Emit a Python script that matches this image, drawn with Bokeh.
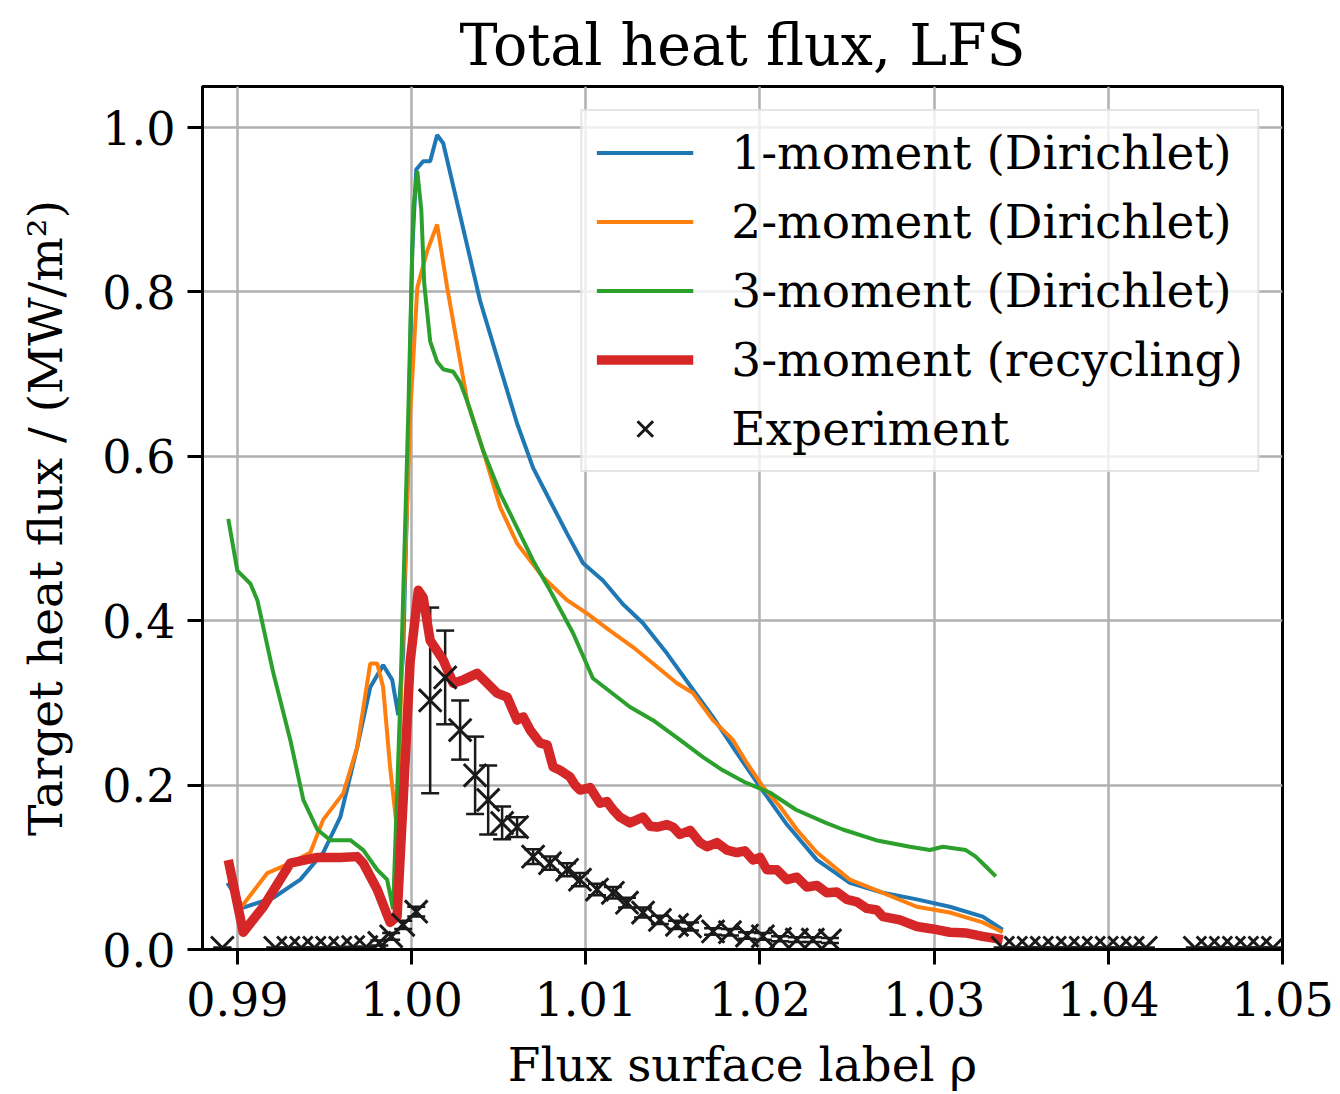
import numpy as np
from bokeh.plotting import figure
from bokeh.models import Range1d, ColumnDataSource, Whisker, TeeHead, Legend, LegendItem, FixedTicker, CustomJSTickFormatter
from bokeh.embed import file_html
from bokeh.resources import INLINE

FONT = "DejaVu Serif"

# ---- data ----
rho_1m = [0.98943, 0.99034, 0.99207, 0.99361, 0.99493, 0.99591, 0.99688, 0.99763, 0.99837, 0.99889,
          0.99924, 0.99952, 0.99981, 1.00004, 1.00027, 1.00067, 1.00107, 1.00147, 1.00182, 1.00279,
          1.00394, 1.00509, 1.00606, 1.00698, 1.00795, 1.00893, 1.00985, 1.01099, 1.01214, 1.01329,
          1.01467, 1.01616, 1.01730, 1.01868, 1.02000, 1.02155, 1.02327, 1.02516, 1.02706, 1.02901,
          1.03090, 1.03279, 1.03394]
q_1m = [0.081, 0.051, 0.063, 0.085, 0.118, 0.161, 0.246, 0.319, 0.346, 0.328,
        0.285, 0.360, 0.600, 0.850, 0.949, 0.959, 0.959, 0.991, 0.981, 0.893,
        0.789, 0.708, 0.640, 0.586, 0.546, 0.506, 0.470, 0.449, 0.420, 0.397,
        0.360, 0.316, 0.283, 0.239, 0.198, 0.152, 0.109, 0.081, 0.069, 0.061,
        0.052, 0.040, 0.024]

rho_2m = [0.99017, 0.99172, 0.99304, 0.99419, 0.99493, 0.99608, 0.99688, 0.99763, 0.99803, 0.99837,
          0.99877, 0.99917, 0.99952, 0.99992, 1.00033, 1.00090, 1.00147, 1.00205, 1.00320, 1.00411,
          1.00509, 1.00606, 1.00755, 1.00893, 1.01007, 1.01139, 1.01271, 1.01386, 1.01524, 1.01616,
          1.01730, 1.01845, 1.01925, 1.02017, 1.02115, 1.02212, 1.02327, 1.02516, 1.02706, 1.02901,
          1.03090, 1.03279, 1.03394]
q_2m = [0.050, 0.093, 0.105, 0.118, 0.158, 0.190, 0.246, 0.348, 0.348, 0.319,
        0.222, 0.146, 0.400, 0.650, 0.805, 0.850, 0.882, 0.805, 0.667, 0.607,
        0.538, 0.494, 0.453, 0.425, 0.409, 0.388, 0.368, 0.348, 0.324, 0.312,
        0.279, 0.255, 0.227, 0.198, 0.174, 0.146, 0.118, 0.085, 0.069, 0.052,
        0.045, 0.033, 0.021]

rho_3m = [0.98948, 0.99000, 0.99075, 0.99115, 0.99207, 0.99304, 0.99379, 0.99459, 0.99534, 0.99649,
          0.99723, 0.99803, 0.99860, 0.99894, 0.99935, 0.99981, 1.00010, 1.00033, 1.00056, 1.00073,
          1.00107, 1.00147, 1.00182, 1.00239, 1.00279, 1.00320, 1.00411, 1.00509, 1.00606, 1.00698,
          1.00795, 1.00927, 1.01041, 1.01254, 1.01386, 1.01541, 1.01673, 1.01787, 1.01919, 1.02057,
          1.02207, 1.02379, 1.02476, 1.02666, 1.02861, 1.02976, 1.03050, 1.03182, 1.03239, 1.03297,
          1.03354]
q_3m = [0.524, 0.461, 0.445, 0.425, 0.336, 0.255, 0.182, 0.146, 0.133, 0.133,
        0.121, 0.097, 0.085, 0.049, 0.300, 0.650, 0.900, 0.947, 0.900, 0.810,
        0.740, 0.715, 0.706, 0.703, 0.690, 0.667, 0.607, 0.555, 0.513, 0.473,
        0.437, 0.385, 0.330, 0.295, 0.279, 0.255, 0.234, 0.218, 0.203, 0.191,
        0.170, 0.154, 0.146, 0.133, 0.125, 0.121, 0.125, 0.121, 0.113, 0.101,
        0.089]

rho_rec = [0.98948, 0.99034, 0.99149, 0.99304, 0.99459, 0.99591, 0.99688, 0.99723, 0.99803, 0.99877,
           0.99917, 0.99952, 0.99992, 1.00039, 1.00067, 1.00107, 1.00182, 1.00239, 1.00297, 1.00377,
           1.00434, 1.00491, 1.00549, 1.00606, 1.00641, 1.00681, 1.00738, 1.00778, 1.00813, 1.00853,
           1.00910, 1.00939, 1.00968, 1.01025, 1.01082, 1.01122, 1.01157, 1.01197, 1.01254, 1.01329,
           1.01369, 1.01409, 1.01467, 1.01501, 1.01541, 1.01599, 1.01656, 1.01696, 1.01753, 1.01811,
           1.01868, 1.01914, 1.01960, 1.02000, 1.02040, 1.02098, 1.02155, 1.02212, 1.02270, 1.02327,
           1.02384, 1.02442, 1.02499, 1.02556, 1.02614, 1.02671, 1.02706, 1.02803, 1.02901, 1.02992,
           1.03090, 1.03187, 1.03279, 1.03394]
q_rec = [0.109, 0.021, 0.052, 0.105, 0.112, 0.112, 0.113, 0.105, 0.073, 0.033,
         0.040, 0.182, 0.350, 0.437, 0.428, 0.376, 0.352, 0.324, 0.328, 0.336,
         0.324, 0.312, 0.307, 0.279, 0.283, 0.267, 0.251, 0.249, 0.222, 0.218,
         0.210, 0.200, 0.194, 0.197, 0.178, 0.180, 0.170, 0.161, 0.154, 0.161,
         0.150, 0.149, 0.152, 0.149, 0.140, 0.145, 0.130, 0.125, 0.130, 0.121,
         0.118, 0.120, 0.109, 0.112, 0.097, 0.097, 0.085, 0.088, 0.076, 0.078,
         0.069, 0.070, 0.061, 0.058, 0.050, 0.048, 0.040, 0.036, 0.028, 0.025,
         0.021, 0.020, 0.016, 0.012]

rho_exp = [0.98914, 0.99218, 0.99293, 0.99367, 0.99442, 0.99516, 0.99591, 0.99665, 0.99740, 0.99815,
           0.99883, 0.99952, 1.00027, 1.00107, 1.00193, 1.00279, 1.00365, 1.00440, 1.00520, 1.00606,
           1.00698, 1.00795, 1.00893, 1.00967, 1.01065, 1.01156, 1.01237, 1.01329, 1.01426, 1.01524,
           1.01599, 1.01731, 1.01828, 1.01926, 1.02017, 1.02115, 1.02212, 1.02304, 1.02402,
           1.03394, 1.03469, 1.03543, 1.03618, 1.03692, 1.03767, 1.03842, 1.03916, 1.03991, 1.04065,
           1.04140, 1.04215,
           1.04497, 1.04572, 1.04646, 1.04721, 1.04796, 1.04870, 1.04945]
q_exp = [0.002, 0.002, 0.002, 0.002, 0.002, 0.002, 0.002, 0.003, 0.003, 0.008,
         0.016, 0.030, 0.046, 0.303, 0.331, 0.267, 0.212, 0.182, 0.154, 0.149,
         0.113, 0.105, 0.097, 0.085, 0.073, 0.069, 0.057, 0.045, 0.036, 0.030,
         0.028, 0.022, 0.021, 0.017, 0.016, 0.013, 0.012, 0.012, 0.011,
         0.002, 0.002, 0.002, 0.002, 0.002, 0.002, 0.002, 0.002, 0.002, 0.002,
         0.002, 0.002,
         0.002, 0.002, 0.002, 0.002, 0.002, 0.002, 0.002]
err_exp = [0.0, 0.0, 0.0, 0.0, 0.0, 0.0, 0.0, 0.0, 0.0, 0.003,
           0.004, 0.005, 0.006, 0.113, 0.057, 0.036, 0.047, 0.042, 0.020, 0.012,
           0.009, 0.008, 0.008, 0.008, 0.007, 0.007, 0.006, 0.006, 0.005, 0.005,
           0.005, 0.004, 0.004, 0.004, 0.004, 0.003, 0.003, 0.003, 0.003,
           0.0, 0.0, 0.0, 0.0, 0.0, 0.0, 0.0, 0.0, 0.0, 0.0,
           0.0, 0.0,
           0.0, 0.0, 0.0, 0.0, 0.0, 0.0, 0.0]

x_ticks = [0.99, 1.00, 1.01, 1.02, 1.03, 1.04, 1.05]
y_ticks = [0.0, 0.2, 0.4, 0.6, 0.8, 1.0]

labels = ["1-moment (Dirichlet)", "2-moment (Dirichlet)", "3-moment (Dirichlet)",
          "3-moment (recycling)", "Experiment"]
colors = ["#1f77b4", "#ff7f0e", "#2ca02c", "#d62728"]

# ---- figure ----
p = figure(width=1340, height=1094, output_backend="svg", toolbar_location=None,
           x_range=Range1d(0.988, 1.05), y_range=Range1d(0.0, 1.05),
           min_border_left=202, min_border_right=58, min_border_top=85, min_border_bottom=143)
p.background_fill_color = "white"
p.border_fill_color = "white"
p.outline_line_color = "black"
p.outline_line_width = 3

p.title.text = "Total heat flux, LFS"
p.title.text_font = FONT
p.title.text_font_size = "57px"
p.title.text_font_style = "normal"
p.title.align = "center"
p.title.text_color = "black"
p.title.standoff = 18

for ax in (p.xaxis[0], p.yaxis[0]):
    ax.axis_line_color = "black"
    ax.axis_line_width = 3
    ax.major_tick_line_color = "black"
    ax.major_tick_line_width = 3
    ax.major_tick_out = 15
    ax.major_tick_in = 0
    ax.minor_tick_line_color = None
    ax.major_label_text_font = FONT
    ax.major_label_text_font_size = "46px"
    ax.major_label_text_color = "black"
    ax.axis_label_text_font = FONT
    ax.axis_label_text_font_size = "47px"
    ax.axis_label_text_font_style = "normal"
    ax.axis_label_text_color = "black"

p.xaxis.ticker = FixedTicker(ticks=x_ticks)
p.yaxis.ticker = FixedTicker(ticks=y_ticks)
p.xaxis.formatter = CustomJSTickFormatter(code="return tick.toFixed(2);")
p.yaxis.formatter = CustomJSTickFormatter(code="return tick.toFixed(1);")
p.xaxis.major_label_standoff = 17
p.yaxis.major_label_standoff = 12
p.xaxis.axis_label = "Flux surface label ρ"
p.yaxis.axis_label = "Target heat flux / (MW/m²)"
p.xaxis.axis_label_standoff = 18
p.yaxis.axis_label_standoff = 26

p.xgrid.grid_line_color = "#b0b0b0"
p.ygrid.grid_line_color = "#b0b0b0"
p.xgrid.grid_line_width = 2.5
p.ygrid.grid_line_width = 2.5

# ---- lines ----
r1 = p.line(rho_1m, q_1m, line_color=colors[0], line_width=4)
r2 = p.line(rho_2m, q_2m, line_color=colors[1], line_width=4)
r3 = p.line(rho_3m, q_3m, line_color=colors[2], line_width=4)
r4 = p.line(rho_rec, q_rec, line_color=colors[3], line_width=9.5, line_join="round")

# ---- experiment ----
up = [q + e for q, e in zip(q_exp, err_exp)]
lo = [q - e for q, e in zip(q_exp, err_exp)]
src = ColumnDataSource(dict(x=rho_exp, y=q_exp, upper=up, lower=lo))
wh = Whisker(source=src, base="x", upper="upper", lower="lower", dimension="height",
             line_color="#1a1a1a", line_width=2.5,
             upper_head=TeeHead(size=18, line_color="#1a1a1a", line_width=2.5),
             lower_head=TeeHead(size=18, line_color="#1a1a1a", line_width=2.5))
p.add_layout(wh)
r5 = p.scatter("x", "y", source=src, marker="x", size=32, line_color="#1a1a1a", line_width=3)

legend = Legend(items=[
    LegendItem(label=labels[0], renderers=[r1]),
    LegendItem(label=labels[1], renderers=[r2]),
    LegendItem(label=labels[2], renderers=[r3]),
    LegendItem(label=labels[3], renderers=[r4]),
    LegendItem(label=labels[4], renderers=[r5]),
], location="top_right")
legend.margin = 23
legend.padding = 14
legend.spacing = 14
legend.glyph_width = 97
legend.glyph_height = 55
legend.label_height = 55
legend.label_standoff = 38
legend.label_text_font = FONT
legend.label_text_font_size = "47px"
legend.label_text_color = "black"
legend.border_line_color = "#cccccc"
legend.border_line_width = 2.5
legend.background_fill_alpha = 0.8
p.add_layout(legend)

open("out.html", "w").write(file_html(p, INLINE))
